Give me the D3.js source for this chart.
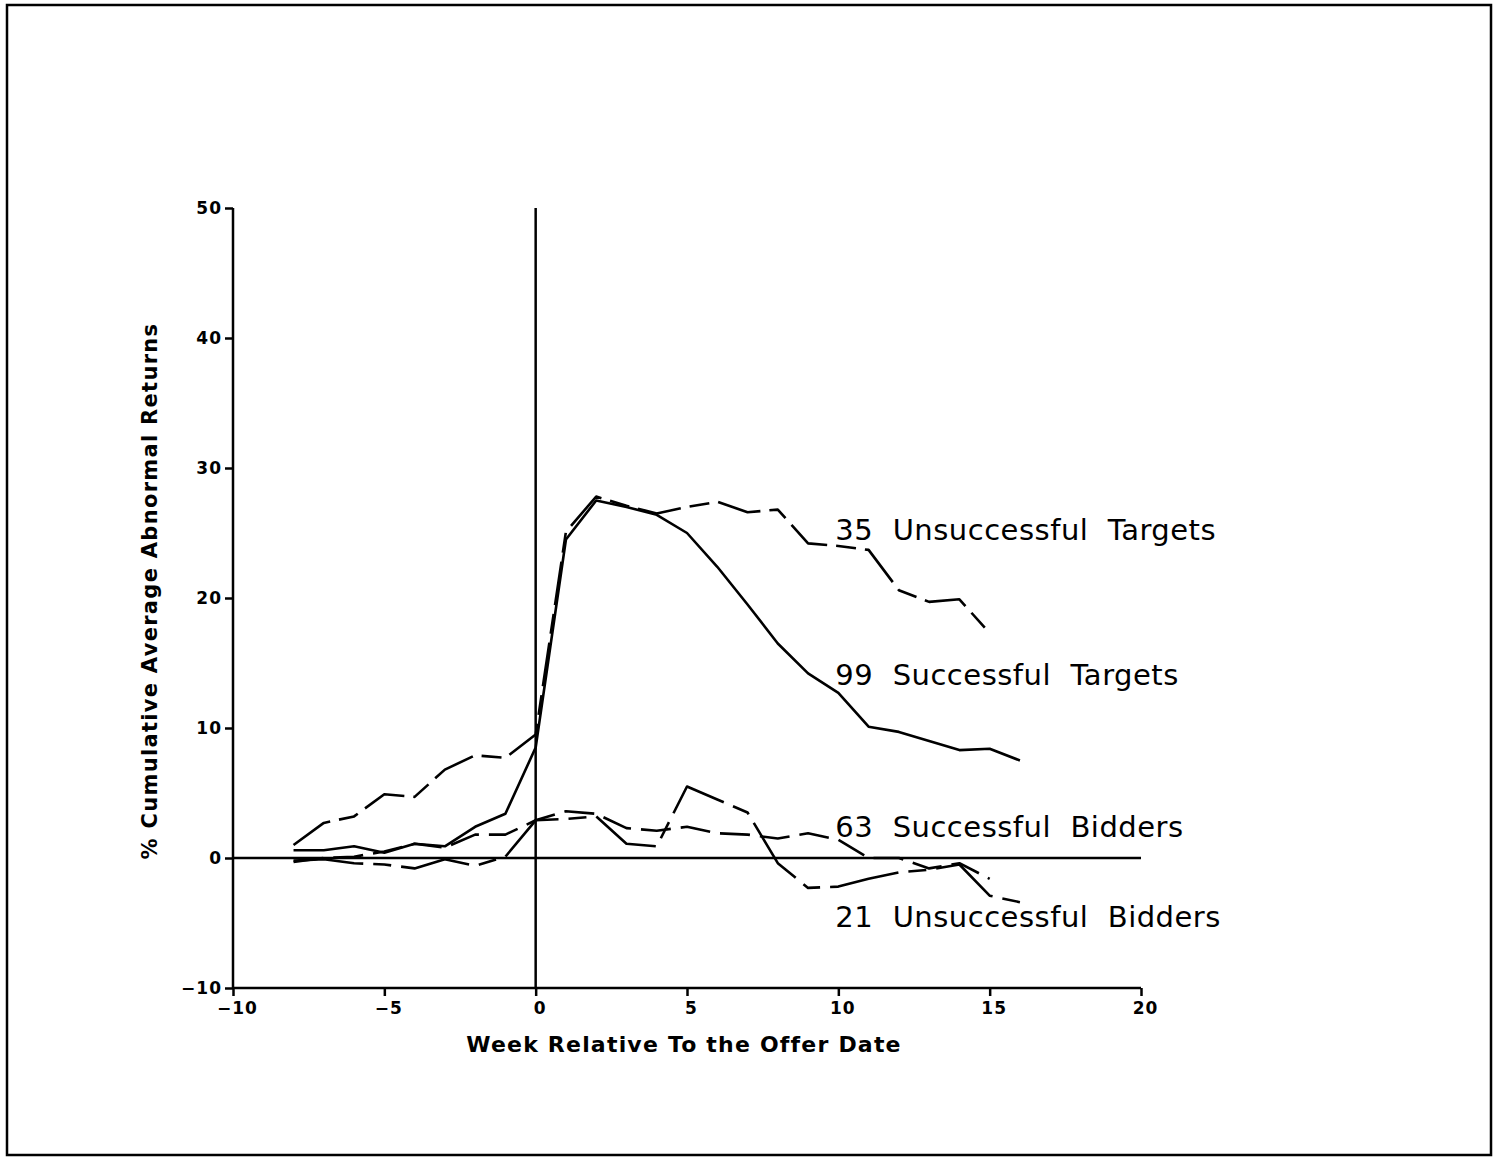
<!DOCTYPE html>
<html>
<head>
<meta charset="utf-8">
<script src="https://cdn.jsdelivr.net/npm/d3@7"></script>
<style>
  body { margin: 0; background: #fff; }
  text { font-family: "DejaVu Sans", sans-serif; fill: #000; }
</style>
</head>
<body>
<script>
var width = 1494;
var height = 1158;

// weeks relative to the offer date
var weeks = [-8,-7,-6,-5,-4,-3,-2,-1,0,1,2,3,4,5,6,7,8,9,10,11,12,13,14,15,16];

// cumulative average abnormal returns (%)
var unsuccessfulTargets = [1.0,2.7,3.2,4.9,4.7,6.8,7.9,7.7,9.5,25.1,27.8,27.1,26.5,27.0,27.4,26.6,26.8,24.2,24.0,23.7,20.6,19.7,19.9,17.3];
var successfulTargets   = [0.6,0.6,0.9,0.4,1.1,0.9,2.4,3.4,8.5,24.5,27.5,27.0,26.4,25.0,22.4,19.5,16.5,14.2,12.7,10.1,9.7,9.0,8.3,8.4,7.5];
var successfulBidders   = [-0.3,0.0,0.1,0.5,1.1,0.8,1.8,1.8,2.9,3.6,3.4,2.3,2.1,2.4,1.9,1.8,1.5,1.9,1.4,0.0,0.0,-0.8,-0.4,-1.6];
var unsuccessfulBidders = [-0.2,-0.1,-0.4,-0.5,-0.8,-0.1,-0.6,0.1,2.9,3.0,3.2,1.1,0.9,5.5,4.5,3.5,-0.4,-2.3,-2.2,-1.6,-1.1,-0.9,-0.5,-2.9,-3.4];

var seriesNames = ["35  Unsuccessful  Targets", "99  Successful  Targets", "63  Successful  Bidders", "21  Unsuccessful  Bidders"];
var labelY = [24.5, 13.3, 1.6, -5.3];

var xTicks = [-10,-5,0,5,10,15,20];
var yTicks = [-10,0,10,20,30,40,50];

var series = [
  {name: seriesNames[0], values: unsuccessfulTargets, dash: "44,9,20,9"},
  {name: seriesNames[1], values: successfulTargets,   dash: null},
  {name: seriesNames[2], values: successfulBidders,   dash: "30,10"},
  {name: seriesNames[3], values: unsuccessfulBidders, dash: "70,10,18,10"}
];

var svg = d3.select("body").append("svg")
  .attr("width", width)
  .attr("height", height);

// outer frame
svg.append("rect")
  .attr("x", 7).attr("y", 5)
  .attr("width", 1484).attr("height", 1150)
  .attr("fill", "none")
  .attr("stroke", "#000")
  .attr("stroke-width", 2.5);

var xScale = d3.scaleLinear().domain([-10, 20]).range([233, 1141]);
var yScale = d3.scaleLinear().domain([-10, 50]).range([988, 208]);

// y axis
var yAxis = svg.append("g")
  .attr("transform", "translate(" + xScale(-10) + ",0)")
  .call(d3.axisLeft(yScale).tickValues(yTicks).tickSize(8).tickPadding(5).tickFormat(d3.format("d")));

// x axis
var xAxis = svg.append("g")
  .attr("transform", "translate(0," + yScale(-10) + ")")
  .call(d3.axisBottom(xScale).tickValues(xTicks).tickSize(8).tickPadding(6).tickFormat(function(d){ return d < 0 ? "\u2212" + Math.abs(d) : d; }));

yAxis.select(".domain").attr("d", "M0," + yScale(50) + "V" + yScale(-10));
xAxis.select(".domain").attr("d", "M" + xScale(-10) + ",0H" + xScale(20));

[xAxis, yAxis].forEach(function(a){
  a.selectAll("path, line").attr("stroke", "#000").attr("stroke-width", 2.5);
  a.selectAll("text")
    .style("font-family", "DejaVu Sans, sans-serif")
    .style("font-weight", "bold")
    .style("font-size", "17px")
    .style("letter-spacing", "1px");
});
yAxis.selectAll("text").attr("x", -11);
xAxis.selectAll("text").attr("dx", 4);

// reference lines at week 0 and 0%
svg.append("line")
  .attr("x1", xScale(0)).attr("x2", xScale(0))
  .attr("y1", yScale(50)).attr("y2", yScale(-10))
  .attr("stroke", "#000").attr("stroke-width", 2.5);

svg.append("line")
  .attr("x1", xScale(-10)).attr("x2", xScale(20))
  .attr("y1", yScale(0)).attr("y2", yScale(0))
  .attr("stroke", "#000").attr("stroke-width", 2.5);

var line = d3.line()
  .x(function(d){ return xScale(d[0]); })
  .y(function(d){ return yScale(d[1]); });

series.forEach(function(s, i){
  var pts = s.values.map(function(v, j){ return [weeks[j], v]; });
  svg.append("path")
    .datum(pts)
    .attr("d", line)
    .attr("fill", "none")
    .attr("stroke", "#000")
    .attr("stroke-width", 2.6)
    .attr("stroke-linejoin", "round")
    .attr("stroke-dasharray", s.dash);

  svg.append("text")
    .attr("x", xScale(9.9))
    .attr("y", yScale(labelY[i]))
    .attr("xml:space", "preserve")
    .style("white-space", "pre")
    .style("font-size", "29px")
    .style("letter-spacing", "0.5px")
    .text(s.name);
});

// axis titles
svg.append("text")
  .attr("x", 684)
  .attr("y", 1052)
  .attr("text-anchor", "middle")
  .style("font-weight", "bold")
  .style("font-size", "22px")
  .style("letter-spacing", "1.2px")
  .text("Week Relative To the Offer Date");

svg.append("text")
  .attr("transform", "translate(157,591) rotate(-90)")
  .attr("text-anchor", "middle")
  .style("font-weight", "bold")
  .style("font-size", "21px")
  .style("letter-spacing", "1.3px")
  .text("% Cumulative Average Abnormal Returns");
</script>
</body>
</html>
